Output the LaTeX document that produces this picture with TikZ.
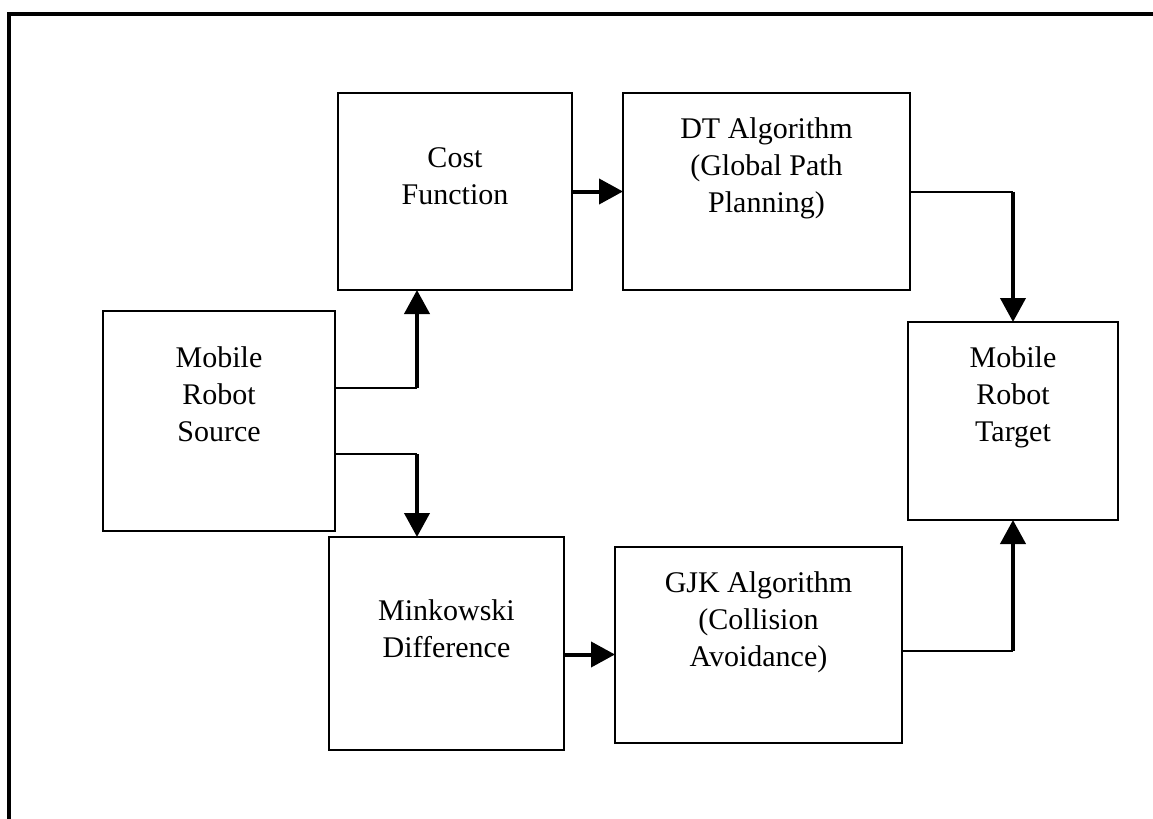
\documentclass[tikz,border=0pt]{standalone}
\usepackage{fontspec}
\setmainfont{Liberation Serif}
\usetikzlibrary{positioning,arrows.meta,calc}

\begin{document}
\begin{tikzpicture} [x=0.5pt, y=-0.5pt,
      block/.style={draw, line width=1.3pt, inner sep=0pt, outer sep=0pt},
      caption/.style={align=center, inner sep=0pt,
        font=\fontsize{15}{18.5}\selectfont},
      link/.style={line width=1pt},
      flow/.style={line width=2pt, -{Triangle[length=12pt, width=12.5pt]}},
      frame/.style={line width=2pt}]

      \useasboundingbox (0,0) rectangle (1153,819);
      \draw[frame] (9,819) -- (9,14) -- (1153,14);

      \node[block, minimum width=117pt, minimum height=98.5pt] (cost) at (455,191.5) {};
      \node[block, minimum width=143.5pt, minimum height=98.5pt] (dt) at (766.5,191.5) {};
      \node[block, minimum width=116pt, minimum height=110pt] (source) at (219,421) {};
      \node[block, minimum width=105pt, minimum height=99pt] (target) at (1013,421) {};
      \node[block, minimum width=117.5pt, minimum height=106.5pt] (mink) at (446.5,643.5) {};
      \node[block, minimum width=143.5pt, minimum height=98pt] (gjk) at (758.5,645) {};

      \node[caption, below=27.25pt of cost.north] (cost text) {Cost\\Function};
      \node[caption, below=12.25pt of dt.north] (dt text)
        {DT Algorithm\\(Global Path\\Planning)};
      \node[caption, below=17.75pt of source.north] (source text) {Mobile\\Robot\\Source};
      \node[caption, below=12.25pt of target.north] (target text) {Mobile\\Robot\\Target};
      \node[caption, below=31.25pt of mink.north] (mink text) {Minkowski\\Difference};
      \node[caption, below=12.25pt of gjk.north] (gjk text)
        {GJK Algorithm\\(Collision\\Avoidance)};

      \coordinate (up) at (417,388);
      \coordinate (down) at (417,454);
      \coordinate (right top) at (target.north |- dt.east);
      \coordinate (right bottom) at ($(target.south |- gjk.east) + (0,6)$);

      \draw[link] (source.east |- up) -- (up);
      \draw[flow] (up) -- (cost.south -| up);
      \draw[link] (source.east |- down) -- (down);
      \draw[flow] (down) -- (mink.north -| down);
      \draw[flow] (cost.east) -- (dt.west);
      \draw[flow] ([yshift=-5.5pt]mink.east) -- ([yshift=-5.5pt]mink.east -| gjk.west);
      \draw[link] (dt.east) -- (right top);
      \draw[flow] (right top) -- (target.north);
      \draw[link] (gjk.east |- right bottom) -- (right bottom);
      \draw[flow] (right bottom) -- (target.south);
    \end{tikzpicture}
\end{document}
